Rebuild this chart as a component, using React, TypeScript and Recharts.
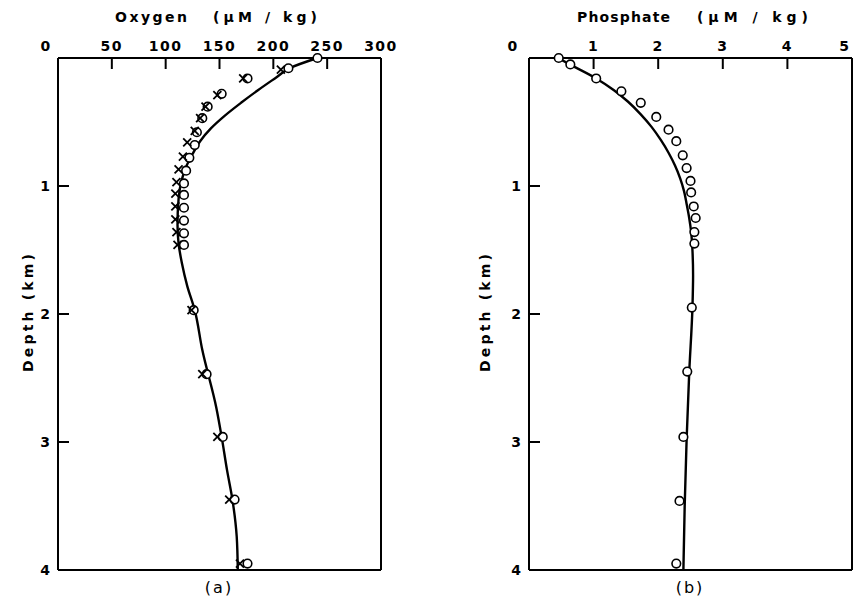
import React from 'react';
import { ScatterChart, Scatter, XAxis, YAxis } from 'recharts';

const FONT = '"DejaVu Sans", "Liberation Sans", sans-serif';
const INK = '#000';
const TICK_LEN = 11;

// ---- tick labels ----
const oxygenTicks = [0, 50, 100, 150, 200, 250, 300];
const oxygenInnerTicks = [50, 100, 150, 200, 250];
const phosphateTicks = [0, 1, 2, 3, 4, 5];
const phosphateInnerTicks = [1, 2, 3, 4];
const depthTicks = [1, 2, 3, 4];
const depthInnerTicks = [1, 2, 3];

// ---- (a) Oxygen, µM/kg vs depth km ----
const oxygenCurve = [
  { v: 241, d: 0.0 }, { v: 215, d: 0.08 }, { v: 203, d: 0.15 }, { v: 186, d: 0.25 },
  { v: 170, d: 0.35 }, { v: 155, d: 0.45 }, { v: 142, d: 0.55 }, { v: 132, d: 0.65 },
  { v: 125, d: 0.75 }, { v: 119, d: 0.85 }, { v: 115, d: 0.95 }, { v: 112, d: 1.1 },
  { v: 111, d: 1.3 }, { v: 112, d: 1.45 }, { v: 115, d: 1.6 }, { v: 120, d: 1.78 },
  { v: 127, d: 1.97 }, { v: 134, d: 2.28 }, { v: 147, d: 2.73 }, { v: 152, d: 2.96 },
  { v: 157, d: 3.22 }, { v: 162, d: 3.45 }, { v: 166, d: 3.74 }, { v: 167, d: 4.0 },
];

const oxygenCircles = [
  { v: 241, d: 0.0 }, { v: 214, d: 0.08 }, { v: 176, d: 0.16 }, { v: 152, d: 0.28 },
  { v: 139, d: 0.38 }, { v: 134, d: 0.47 }, { v: 129, d: 0.58 }, { v: 127, d: 0.68 },
  { v: 122, d: 0.78 }, { v: 119, d: 0.88 }, { v: 117, d: 0.98 }, { v: 117, d: 1.07 },
  { v: 117, d: 1.17 }, { v: 117, d: 1.27 }, { v: 117, d: 1.37 }, { v: 117, d: 1.46 },
  { v: 126, d: 1.97 }, { v: 138, d: 2.47 }, { v: 153, d: 2.96 }, { v: 164, d: 3.45 },
  { v: 176, d: 3.95 },
];

const oxygenCrosses = [
  { v: 207, d: 0.09 }, { v: 172, d: 0.16 }, { v: 148, d: 0.29 }, { v: 137, d: 0.38 },
  { v: 132, d: 0.47 }, { v: 127, d: 0.57 }, { v: 120, d: 0.66 }, { v: 116, d: 0.77 },
  { v: 112, d: 0.87 }, { v: 110, d: 0.97 }, { v: 109, d: 1.06 }, { v: 109, d: 1.16 },
  { v: 109, d: 1.26 }, { v: 110, d: 1.36 }, { v: 111, d: 1.46 }, { v: 124, d: 1.97 },
  { v: 134, d: 2.47 }, { v: 148, d: 2.96 }, { v: 159, d: 3.45 }, { v: 169, d: 3.95 },
];

// ---- (b) Phosphate, µM/kg vs depth km ----
const phosphateCurve = [
  { v: 0.45, d: 0.0 }, { v: 0.63, d: 0.05 }, { v: 1.04, d: 0.16 }, { v: 1.31, d: 0.25 },
  { v: 1.53, d: 0.34 }, { v: 1.73, d: 0.44 }, { v: 1.9, d: 0.54 }, { v: 2.04, d: 0.64 },
  { v: 2.16, d: 0.74 }, { v: 2.26, d: 0.84 }, { v: 2.34, d: 0.94 }, { v: 2.4, d: 1.04 },
  { v: 2.44, d: 1.14 }, { v: 2.48, d: 1.25 }, { v: 2.51, d: 1.36 }, { v: 2.53, d: 1.5 },
  { v: 2.54, d: 1.7 }, { v: 2.53, d: 1.95 }, { v: 2.48, d: 2.46 }, { v: 2.44, d: 2.98 },
  { v: 2.41, d: 3.5 }, { v: 2.39, d: 4.0 },
];

const phosphateCircles = [
  { v: 0.46, d: 0.0 }, { v: 0.64, d: 0.05 }, { v: 1.04, d: 0.16 }, { v: 1.43, d: 0.26 },
  { v: 1.73, d: 0.35 }, { v: 1.97, d: 0.46 }, { v: 2.16, d: 0.56 }, { v: 2.28, d: 0.65 },
  { v: 2.38, d: 0.76 }, { v: 2.44, d: 0.86 }, { v: 2.5, d: 0.96 }, { v: 2.51, d: 1.05 },
  { v: 2.55, d: 1.16 }, { v: 2.58, d: 1.25 }, { v: 2.56, d: 1.36 }, { v: 2.56, d: 1.45 },
  { v: 2.52, d: 1.95 }, { v: 2.45, d: 2.45 }, { v: 2.39, d: 2.96 }, { v: 2.33, d: 3.46 },
  { v: 2.28, d: 3.95 },
];

const labelStyle = {
  fontFamily: FONT,
  fontWeight: 'bold' as const,
  fontSize: 14,
  fill: INK,
};

function TopTick(props: any) {
  const { x, y, payload, inner, shift, last } = props;
  const v = payload.value;
  const isLast = v === last;
  const dx = v === 0 ? shift : isLast ? -8 : 0;
  return (
    <g>
      {inner.includes(v) && (
        <line x1={x} y1={y} x2={x} y2={y + TICK_LEN} stroke={INK} strokeWidth={2} />
      )}
      <text x={x + dx} y={y - 7} textAnchor="middle" letterSpacing={isLast ? 0 : 1.5} {...labelStyle}>
        {v}
      </text>
    </g>
  );
}

function BottomTick(props: any) {
  const { x, y, payload, inner } = props;
  const v = payload.value;
  if (!inner.includes(v)) return <g />;
  return <line x1={x} y1={y} x2={x} y2={y - TICK_LEN} stroke={INK} strokeWidth={2} />;
}

function LeftTick(props: any) {
  const { x, y, payload } = props;
  const v = payload.value;
  return (
    <g>
      {depthInnerTicks.includes(v) && (
        <line x1={x} y1={y} x2={x + TICK_LEN} y2={y} stroke={INK} strokeWidth={2} />
      )}
      <text x={x - 8} y={y + 5} textAnchor="end" {...labelStyle}>
        {v}
      </text>
    </g>
  );
}

function RightTick(props: any) {
  const { x, y, payload } = props;
  const v = payload.value;
  if (!depthInnerTicks.includes(v)) return <g />;
  return <line x1={x} y1={y} x2={x - TICK_LEN} y2={y} stroke={INK} strokeWidth={2} />;
}

const Circle = (p: any) => (
  <circle cx={p.cx} cy={p.cy} r={4.3} fill="#fff" stroke={INK} strokeWidth={1.6} />
);
const Cross = (p: any) => (
  <path
    d={`M${p.cx - 4},${p.cy - 4}L${p.cx + 4},${p.cy + 4}M${p.cx - 4},${p.cy + 4}L${p.cx + 4},${p.cy - 4}`}
    stroke={INK}
    strokeWidth={1.8}
    fill="none"
  />
);
const NoDot = () => <g />;

type Pt = { v: number; d: number };
type PanelProps = {
  width: number;
  leftW: number;
  rightW: number;
  domain: [number, number];
  ticks: number[];
  inner: number[];
  shift: number;
  edgeLabel: boolean;
  curve: Pt[];
  circles: Pt[];
  crosses?: Pt[];
};

function Panel(props: PanelProps) {
  const { width, leftW, rightW, domain, ticks, inner, shift, edgeLabel, curve, circles, crosses } = props;
  const axisLine = { stroke: INK, strokeWidth: 2 };
  const last = edgeLabel ? ticks[ticks.length - 1] : -1;
  return (
    <ScatterChart width={width} height={598} margin={{ top: 0, right: 0, bottom: 0, left: 0 }}>
      <XAxis
        xAxisId="top"
        orientation="top"
        type="number"
        dataKey="v"
        domain={domain}
        ticks={ticks}
        interval={0}
        height={58}
        tickSize={0}
        tickMargin={0}
        tickLine={false}
        axisLine={axisLine}
        tick={(p: any) => <TopTick {...p} inner={inner} shift={shift} last={last} />}
      />
      <XAxis
        xAxisId="bottom"
        orientation="bottom"
        type="number"
        dataKey="v"
        domain={domain}
        ticks={inner}
        interval={0}
        height={28}
        tickSize={0}
        tickMargin={0}
        tickLine={false}
        axisLine={axisLine}
        tick={(p: any) => <BottomTick {...p} inner={inner} />}
      />
      <YAxis
        yAxisId="left"
        orientation="left"
        type="number"
        dataKey="d"
        domain={[0, 4]}
        reversed
        ticks={depthTicks}
        interval={0}
        width={leftW}
        tickSize={0}
        tickMargin={0}
        tickLine={false}
        axisLine={axisLine}
        tick={(p: any) => <LeftTick {...p} />}
      />
      <YAxis
        yAxisId="right"
        orientation="right"
        type="number"
        dataKey="d"
        domain={[0, 4]}
        reversed
        ticks={depthInnerTicks}
        interval={0}
        width={rightW}
        tickSize={0}
        tickMargin={0}
        tickLine={false}
        axisLine={axisLine}
        tick={(p: any) => <RightTick {...p} />}
      />
      <Scatter
        xAxisId="top"
        yAxisId="left"
        data={curve}
        line={{ stroke: INK, strokeWidth: 2.4 }}
        lineJointType="monotoneY"
        shape={NoDot}
        isAnimationActive={false}
      />
      <Scatter xAxisId="top" yAxisId="left" data={circles} shape={Circle} isAnimationActive={false} />
      {crosses && (
        <Scatter xAxisId="top" yAxisId="left" data={crosses} shape={Cross} isAnimationActive={false} />
      )}
    </ScatterChart>
  );
}

const titleStyle = { fontFamily: FONT, fontWeight: 'bold' as const, fontSize: 14, fill: INK };

export default function App() {
  return (
    <div style={{ position: 'absolute', left: 0, top: 0, width: 853, height: 598, background: '#fff', overflow: 'hidden' }}>
      <div style={{ position: 'absolute', left: 0, top: 0 }}>
        <Panel
          width={426}
          leftW={58}
          rightW={45}
          domain={[0, 300]}
          ticks={oxygenTicks}
          inner={oxygenInnerTicks}
          shift={-12}
          edgeLabel={false}
          curve={oxygenCurve}
          circles={oxygenCircles}
          crosses={oxygenCrosses}
        />
      </div>
      <div style={{ position: 'absolute', left: 426, top: 0 }}>
        <Panel
          width={427}
          leftW={103}
          rightW={1}
          domain={[0, 5]}
          ticks={phosphateTicks}
          inner={phosphateInnerTicks}
          shift={-16}
          edgeLabel={true}
          curve={phosphateCurve}
          circles={phosphateCircles}
        />
      </div>
      <svg
        width={853}
        height={598}
        style={{ position: 'absolute', left: 0, top: 0, pointerEvents: 'none' }}
      >
        <text x={115} y={22} textLength={72} lengthAdjust="spacing" {...titleStyle}>Oxygen</text>
        <text x={213} y={22} textLength={104} lengthAdjust="spacing" {...titleStyle}>(μM / kg)</text>
        <text x={577} y={22} textLength={93} lengthAdjust="spacing" {...titleStyle}>Phosphate</text>
        <text x={697} y={22} textLength={111} lengthAdjust="spacing" {...titleStyle}>(μM / kg)</text>
        <text
          x={28}
          y={313}
          transform="rotate(-90 28 313)"
          textAnchor="middle"
          dominantBaseline="central"
          textLength={118}
          lengthAdjust="spacing"
          {...titleStyle}
        >
          Depth (km)
        </text>
        <text
          x={485}
          y={313}
          transform="rotate(-90 485 313)"
          textAnchor="middle"
          dominantBaseline="central"
          textLength={118}
          lengthAdjust="spacing"
          {...titleStyle}
        >
          Depth (km)
        </text>
        <text x={219} y={593} textAnchor="middle" letterSpacing={2} {...titleStyle} fontSize={16} fontWeight="normal">(a)</text>
        <text x={690} y={593} textAnchor="middle" letterSpacing={2} {...titleStyle} fontSize={16} fontWeight="normal">(b)</text>
      </svg>
    </div>
  );
}
